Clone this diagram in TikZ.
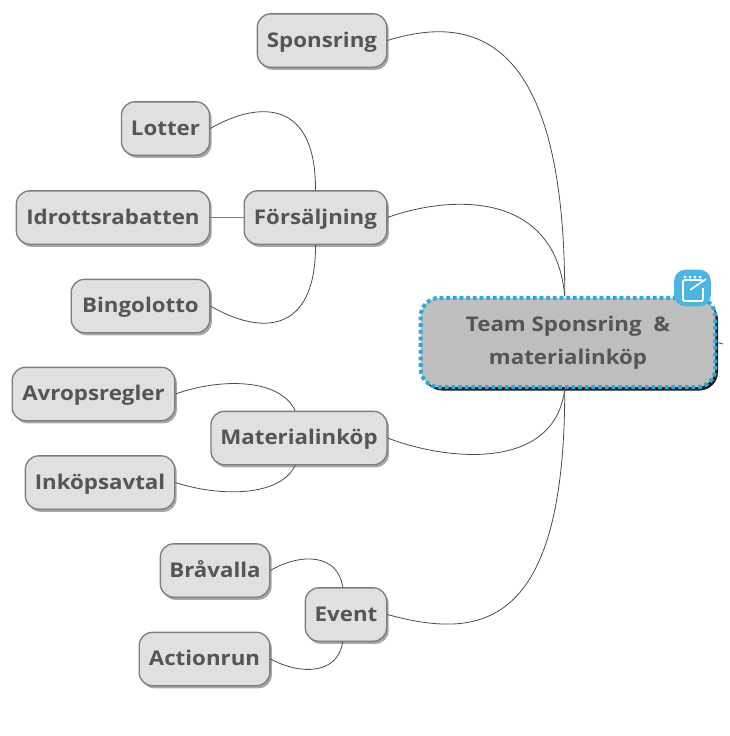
\documentclass[tikz,border=0pt]{standalone}
\usepackage{fontspec}
\setmainfont{Open Sans}[FakeStretch=1.1]
\usetikzlibrary{shadows}
\definecolor{boxfill}{RGB}{224,224,224}
\definecolor{boxline}{RGB}{125,125,125}
\definecolor{rootfill}{RGB}{190,190,190}
\definecolor{rootdash}{RGB}{45,168,220}
\definecolor{labeltext}{RGB}{85,85,85}
\tikzset{
  topic/.style={draw=boxline,line width=1pt,fill=boxfill,rounded corners=10pt,inner sep=0pt,
    minimum height=40pt,text height=12pt,text depth=2.2pt,text=labeltext,
    font=\fontsize{15.2}{18}\selectfont\bfseries,
    drop shadow={shadow xshift=1.5pt,shadow yshift=-2pt,fill=black,opacity=.35}},
  rootbox/.style={draw=rootdash,line width=3pt,dash pattern=on 2.8pt off 2.2pt,fill=rootfill,rounded corners=14pt,
    inner sep=0pt,minimum width=221pt,minimum height=67pt,align=center,text=labeltext,
    font=\fontsize{15.2}{24.5}\selectfont\bfseries,
    drop shadow={shadow xshift=2pt,shadow yshift=-2.5pt,fill=black,opacity=.9}},
  link/.style={draw=black!70,line width=0.6pt},
}
\begin{document}
\begin{tikzpicture}[x=0.75pt,y=0.75pt,yscale=-1,xscale=1]
\path[use as bounding box] (0,0) rectangle (730,736);

% Root
\node[rootbox] (root) at (568,342.5) {Team Sponsring\ \ \&\\materialinköp};

% Main branches
\node[topic,minimum width=97pt] (sponsring) at (322,40.5) {Sponsring};
\node[topic,minimum width=107pt] (forsaljning) at (315.5,217.5) {Försäljning};
\node[topic,minimum width=132pt] (materialinkop) at (299,438) {Materialinköp};
\node[topic,minimum width=61pt] (event) at (346,614.5) {Event};

% Leaves
\node[topic,minimum width=66pt] (lotter) at (165.5,128.5) {Lotter};
\node[topic,minimum width=145pt] (idrottsrabatten) at (113,217.5) {Idrottsrabatten};
\node[topic,minimum width=104pt] (bingolotto) at (140.5,306) {Bingolotto};
\node[topic,minimum width=122pt] (avropsregler) at (93.5,394) {Avropsregler};
\node[topic,minimum width=112pt] (inkopsavtal) at (100,482.5) {Inköpsavtal};
\node[topic,minimum width=82pt] (bravalla) at (215,570.5) {Bråvalla};
\node[topic,minimum width=98pt] (actionrun) at (204.5,659) {Actionrun};

% Root connectors
\draw[link] (sponsring.east) .. controls (470,15) and (565,30) .. (root.94);
\draw[link] (forsaljning.east) .. controls (450,195) and (555,190) .. (root.94);
\draw[link] (materialinkop.east) .. controls (450,462) and (555,470) .. (root.266);
\draw[link] (event.east) .. controls (480,640) and (565,630) .. (root.266);
\coordinate (stub) at (723,344);
\draw[link] (root.east) -- (stub);

% Leaf connectors
\draw[link] (lotter.east) .. controls (260,100) and (316,100) .. (forsaljning.north);
\draw[draw=boxline,line width=1pt] (idrottsrabatten.east) -- (forsaljning.west);
\draw[link] (bingolotto.east) .. controls (260,335) and (316,335) .. (forsaljning.south);
\draw[link] (avropsregler.east) .. controls (220,378) and (280,378) .. (materialinkop.98);
\draw[link] (inkopsavtal.east) .. controls (220,497) and (280,497) .. (materialinkop.262);
\draw[link] (bravalla.east) .. controls (300,553) and (338,553) .. (event.97);
\draw[link] (actionrun.east) .. controls (300,675) and (338,675) .. (event.263);

% Note icon
\node[fill=rootdash!85!white,rounded corners=8.5pt,minimum size=27.5pt,inner sep=0pt] (noteicon) at (692.5,288) {};
\draw[white,line width=1.2pt,rounded corners=1pt] (702,280) -- (683,280) -- (683,301) -- (703,301) -- (703,288);
\draw[white,line width=1.2pt] (690,290) -- (706,279);
\foreach \dotx in {685,690,695,700} \fill[white] (\dotx,277) circle (1.5);
\end{tikzpicture}
\end{document}
